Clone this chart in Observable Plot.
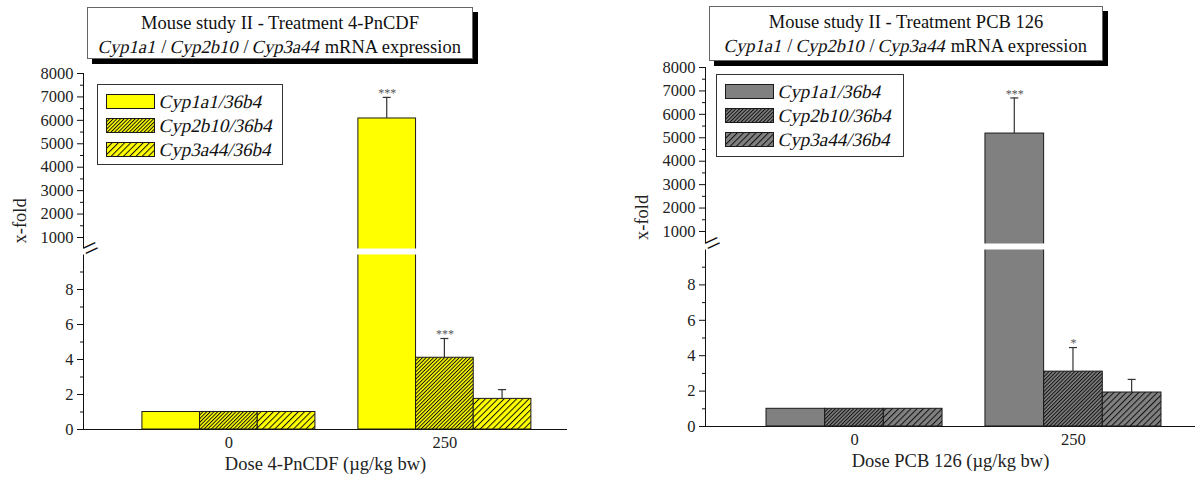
<!DOCTYPE html>
<html>
<head>
<meta charset="utf-8">
<script src="https://cdn.jsdelivr.net/npm/d3@7"></script>
<script src="https://cdn.jsdelivr.net/npm/@observablehq/plot@0.6"></script>
<style>
  body { margin: 0; background: #fff; }
  #wrap { position: relative; width: 1197px; height: 479px; overflow: hidden;
          font-family: "Liberation Serif", "Times New Roman", serif; color: #111; }
  .panel { position: absolute; top: 0; }
  .title { position: absolute; box-sizing: border-box; border: 1px solid #666; background: #fff;
           box-shadow: 5px 5px 0 #000; text-align: center; font-size: 18.5px; line-height: 24px; padding-top: 3px; white-space: nowrap; }
  .it { display: inline-block; font-style: normal; transform: skewX(-13deg); }
  .legend { position: absolute; box-sizing: border-box; border: 1px solid #333; background: #fff; }
  .row { position: absolute; left: 8px; height: 15px; display: flex; align-items: center; white-space: nowrap; }
  .row svg { display: block; flex: none; }
  .row span { font-size: 19px; margin-left: 5px; }
</style>
</head>
<body>
<svg width="0" height="0" style="position:absolute">
  <defs>
    <pattern id="hdY" patternUnits="userSpaceOnUse" width="2.6" height="10" patternTransform="rotate(45)">
      <rect width="2.6" height="10" fill="#ffff00"/><line x1="0.5" y1="0" x2="0.5" y2="10" stroke="#111" stroke-width="1"/>
    </pattern>
    <pattern id="hsY" patternUnits="userSpaceOnUse" width="4.4" height="10" patternTransform="rotate(45)">
      <rect width="4.4" height="10" fill="#ffff00"/><line x1="0.5" y1="0" x2="0.5" y2="10" stroke="#111" stroke-width="1"/>
    </pattern>
    <pattern id="hdG" patternUnits="userSpaceOnUse" width="2.6" height="10" patternTransform="rotate(45)">
      <rect width="2.6" height="10" fill="#808080"/><line x1="0.5" y1="0" x2="0.5" y2="10" stroke="#111" stroke-width="1"/>
    </pattern>
    <pattern id="hsG" patternUnits="userSpaceOnUse" width="4.4" height="10" patternTransform="rotate(45)">
      <rect width="4.4" height="10" fill="#808080"/><line x1="0.5" y1="0" x2="0.5" y2="10" stroke="#111" stroke-width="1"/>
    </pattern>
  </defs>
</svg>
<div id="wrap"></div>
<script>
// ---------------- data ----------------
const doses = ["0", "250"];
const seriesNames = ["Cyp1a1/36b4", "Cyp2b10/36b4", "Cyp3a44/36b4"];

const yTicksLower = [0, 2, 4, 6, 8];
const yTicksUpper = [1000, 2000, 3000, 4000, 5000, 6000, 7000, 8000];
const yMinorLower = [1, 3, 5, 7, 9];
const yMinorUpper = [1500, 2500, 3500, 4500, 5500, 6500, 7500];

// Mouse study II - 4-PnCDF
const pncdfCyp1a1 = [1, 6080];
const pncdfCyp1a1Err = [0, 900];
const pncdfCyp1a1Sig = ["", "***"];
const pncdfCyp2b10 = [1, 4.1];
const pncdfCyp2b10Err = [0, 1.1];
const pncdfCyp2b10Sig = ["", "***"];
const pncdfCyp3a44 = [1, 1.75];
const pncdfCyp3a44Err = [0, 0.53];
const pncdfCyp3a44Sig = ["", ""];

// Mouse study II - PCB 126
const pcbCyp1a1 = [1, 5180];
const pcbCyp1a1Err = [0, 1520];
const pcbCyp1a1Sig = ["", "***"];
const pcbCyp2b10 = [1, 3.1];
const pcbCyp2b10Err = [0, 1.36];
const pcbCyp2b10Sig = ["", "*"];
const pcbCyp3a44 = [1, 1.92];
const pcbCyp3a44Err = [0, 0.74];
const pcbCyp3a44Sig = ["", ""];

function buildRows(vals, errs, sigs) {
  const out = [];
  seriesNames.forEach((s, i) => {
    doses.forEach((d, j) => {
      out.push({dose: d, series: s, value: vals[i][j], err: errs[i][j], top: vals[i][j] + errs[i][j], sig: sigs[i][j]});
    });
  });
  return out;
}

const pncdfRows = buildRows([pncdfCyp1a1, pncdfCyp2b10, pncdfCyp3a44],
                            [pncdfCyp1a1Err, pncdfCyp2b10Err, pncdfCyp3a44Err],
                            [pncdfCyp1a1Sig, pncdfCyp2b10Sig, pncdfCyp3a44Sig]);
const pcbRows = buildRows([pcbCyp1a1, pcbCyp2b10, pcbCyp3a44],
                          [pcbCyp1a1Err, pcbCyp2b10Err, pcbCyp3a44Err],
                          [pcbCyp1a1Sig, pcbCyp2b10Sig, pcbCyp3a44Sig]);

const FONT = "'Liberation Serif', 'Times New Roman', serif";

function panel(cfg) {
  const {data, fills, width, height, ml, mr, mt, mb, yDomain, yRange, pI, pO, align, xLabel, yLabelDy} = cfg;
  const frameW = width - ml - mr;
  const step = frameW / (doses.length - pI + 2 * pO);
  const bw = step * (1 - pI);
  const third = bw / 3;
  const breakMid = (yDomain[1] + yDomain[2]) / 2;
  const gap = yRange[1] - yRange[2];
  const marks = [];
  marks.push(Plot.frame({anchor: "left", stroke: "#111"}));
  marks.push(Plot.ruleY([0], {stroke: "#111"}));
  seriesNames.forEach((s, i) => {
    const d = data.filter(r => r.series === s);
    marks.push(Plot.barY(d, {x: "dose", y1: 0, y2: "value", fill: fills[i], stroke: "#1a1a1a", strokeWidth: 1,
      insetLeft: third * i, insetRight: bw - third * (i + 1)}));
    const e = d.filter(r => r.err > 0);
    const c = third * (i + 0.5);
    marks.push(Plot.barY(e, {x: "dose", y1: "value", y2: "top", fill: "#333", insetLeft: c - 0.6, insetRight: bw - c - 0.6}));
    marks.push(Plot.tickY(e, {x: "dose", y: "top", stroke: "#333", strokeWidth: 1.2, insetLeft: c - 4, insetRight: bw - c - 4}));
    marks.push(Plot.text(e.filter(r => r.sig), {x: "dose", y: "top", text: "sig", dx: c - bw / 2, dy: -4, fill: "#555", fontSize: 12}));
  });
  // axis break
  marks.push(Plot.ruleY([breakMid], {stroke: "white", strokeWidth: gap, insetLeft: -4}));
  marks.push(Plot.axisY(yTicksUpper.concat(yTicksLower), {tickSize: 6, tickPadding: 4, tickFormat: d => String(d), label: null, stroke: "#111", fill: "#222"}));
  marks.push(Plot.axisY(yMinorUpper.concat(yMinorLower), {tickSize: 3, tickFormat: () => "", label: null, stroke: "#111"}));
  marks.push(Plot.text([breakMid], {y: d => d, text: () => "=", frameAnchor: "left", rotate: -25, fontSize: 28, fill: "#111"}));
  marks.push(Plot.axisX({tickSize: 0, tickPadding: 7, label: null, fill: "#222"}));
  marks.push(Plot.text([xLabel], {text: d => d, frameAnchor: "bottom", dy: 40, fontSize: 18.5, fill: "#222"}));
  marks.push(Plot.text(["x-fold"], {text: d => d, frameAnchor: "left", dx: -63, dy: yLabelDy, rotate: -90, fontSize: 18.5, fill: "#222"}));
  return Plot.plot({
    width, height, marginLeft: ml, marginRight: mr, marginTop: mt, marginBottom: mb,
    x: {type: "band", domain: doses, paddingInner: pI, paddingOuter: pO, align, round: false},
    y: {type: "linear", domain: yDomain, range: yRange},
    style: {fontFamily: FONT, fontSize: "16.5px", color: "#111", background: "transparent", overflow: "visible"},
    marks
  });
}

const wrap = document.getElementById("wrap");

function addPanel(left, svg) {
  const div = document.createElement("div");
  div.className = "panel";
  div.style.left = left + "px";
  div.appendChild(svg);
  wrap.appendChild(div);
}

function addTitle(left, top, w, h, line1) {
  const t = document.createElement("div");
  t.className = "title";
  Object.assign(t.style, {left: left + "px", top: top + "px", width: w + "px", height: h + "px"});
  t.innerHTML = line1 + '<br><span class="it">Cyp1a1</span> / <span class="it">Cyp2b10</span> / <span class="it">Cyp3a44</span> mRNA expression';
  wrap.appendChild(t);
}

function addLegend(left, top, w, h, fills) {
  const L = document.createElement("div");
  L.className = "legend";
  Object.assign(L.style, {left: left + "px", top: top + "px", width: w + "px", height: h + "px"});
  seriesNames.forEach((s, i) => {
    const r = document.createElement("div");
    r.className = "row";
    r.style.top = (9 + 24 * i) + "px";
    r.innerHTML = `<svg width="49" height="15"><rect x="0.5" y="0.5" width="48" height="14" fill="${fills[i]}" stroke="#1a1a1a"/></svg><span class="it">${s}</span>`;
    L.appendChild(r);
  });
  wrap.appendChild(L);
}

const fillsY = ["#ffff00", "url(#hdY)", "url(#hsY)"];
const fillsG = ["#808080", "url(#hdG)", "url(#hsG)"];

addPanel(0, panel({data: pncdfRows, fills: fillsY, width: 598, height: 479, ml: 83, mr: 31, mt: 73, mb: 50,
  yDomain: [0, 10, 530, 8000], yRange: [429, 254, 248, 73], pI: 0.199, pO: 0.22, align: 0.62,
  xLabel: "Dose 4-PnCDF (µg/kg bw)", yLabelDy: -8}));
addPanel(622, panel({data: pcbRows, fills: fillsG, width: 575, height: 479, ml: 83, mr: 2, mt: 67, mb: 53,
  yDomain: [0, 10, 487, 8000], yRange: [426, 249, 243, 67], pI: 0.196, pO: 0.217, align: 0.642,
  xLabel: "Dose PCB 126 (µg/kg bw)", yLabelDy: -7}));

addTitle(87, 7, 386, 52, "Mouse study II - Treatment 4-PnCDF");
addTitle(709, 6, 394, 55, "Mouse study II - Treatment PCB 126");
addLegend(97, 84, 186, 81, fillsY);
addLegend(716, 74, 188, 83, fillsG);
</script>
</body>
</html>
